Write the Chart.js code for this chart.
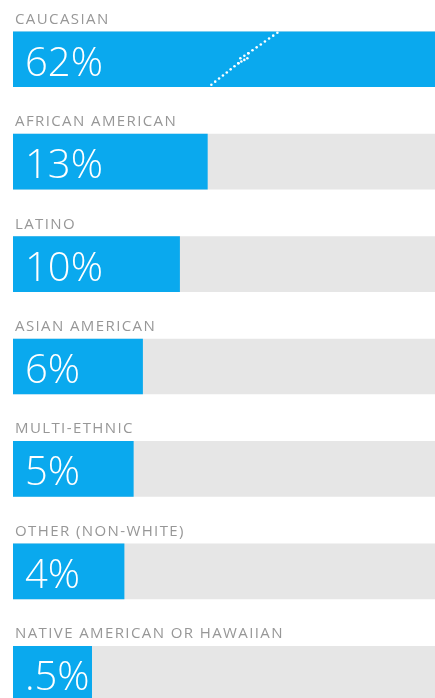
<!DOCTYPE html>
<html>
<head>
<meta charset="utf-8">
<script src="https://cdn.jsdelivr.net/npm/chart.js@4/dist/chart.umd.min.js"></script>
<style>
  html, body { margin: 0; padding: 0; background: #fff; overflow: hidden; }
  #wrap { width: 435px; height: 698px; overflow: hidden; }
</style>
</head>
<body>
<div id="wrap"><canvas id="chart" width="435" height="725"></canvas></div>
<script>
const categories = [
    'CAUCASIAN',
    'AFRICAN AMERICAN',
    'LATINO',
    'ASIAN AMERICAN',
    'MULTI-ETHNIC',
    'OTHER (NON-WHITE)',
    'NATIVE AMERICAN OR HAWAIIAN'
];
const shares = [62, 13, 10, 6, 5, 4, 0.5];
const valueLabels = ['62%', '13%', '10%', '6%', '5%', '4%', '.5%'];
// grey track behind each bar runs to the end of the axis
const trackValues = [37.6, 37.6, 37.6, 37.6, 37.6, 37.6, 37.6];
const axisMin = -8.0;
const axisMax = 37.6;
const breakAt = 17;   // where the broken first bar shows its cut mark

const blue = '#0aa9ee';
const track = '#e6e6e6';

// category names above the bars, values inside, and the break mark
const labelPlugin = {
    id: 'labels',
    afterDatasetsDraw: function (chart) {
        const ctx = chart.ctx;
        const meta = chart.getDatasetMeta(1);
        const left = chart.chartArea.left;
        ctx.save();
        meta.data.forEach(function (bar, i) {
            const top = bar.y - bar.height / 2;
            ctx.fillStyle = '#979797';
            ctx.font = '15px "Open Sans"';
            ctx.letterSpacing = '1.4px';
            ctx.textBaseline = 'alphabetic';
            ctx.fillText(categories[i], left + 2, top - 8);

            ctx.fillStyle = '#ffffff';
            ctx.font = '300 40px "Open Sans"';
            ctx.letterSpacing = '0px';
            ctx.fillText(valueLabels[i], left + 12, top + 44);
        });

        // dotted diagonal cut on the first bar
        const first = meta.data[0];
        const top = first.y - first.height / 2;
        const bottom = first.y + first.height / 2;
        const bx = chart.scales.x.getPixelForValue(breakAt);
        const mid = (top + bottom) / 2;
        ctx.fillStyle = '#ffffff';
        const dots = function (x1, y1, x2, y2, step) {
            const len = Math.hypot(x2 - x1, y2 - y1);
            const n = Math.max(1, Math.round(len / step));
            for (let k = 0; k <= n; k++) {
                ctx.beginPath();
                ctx.arc(x1 + (x2 - x1) * k / n, y1 + (y2 - y1) * k / n, 1.3, 0, Math.PI * 2);
                ctx.fill();
            }
        };
        dots(bx - 33, bottom - 2, bx - 6, mid + 4, 5);
        dots(bx + 4, mid - 6, bx + 33, top + 1, 5);
        dots(bx - 6, mid + 4, bx + 3, mid - 1, 4);
        dots(bx - 4, mid - 1, bx + 4, mid - 6, 4);
        ctx.restore();
    }
};

new Chart(document.getElementById('chart'), {
    type: 'bar',
    data: {
        labels: categories,
        datasets: [
            {
                data: trackValues,
                backgroundColor: track,
                base: axisMin,
                grouped: false,
                order: 2
            },
            {
                data: shares,
                backgroundColor: blue,
                base: axisMin,
                grouped: false,
                order: 1
            }
        ]
    },
    options: {
        indexAxis: 'y',
        responsive: false,
        animation: false,
        devicePixelRatio: 1,
        layout: { padding: { left: 13, top: 8, right: 0, bottom: 0 } },
        datasets: { bar: { barThickness: 55, borderWidth: 0 } },
        scales: {
            x: { type: 'linear', min: axisMin, max: axisMax, display: false },
            y: { display: false, offset: true }
        },
        plugins: {
            legend: { display: false },
            tooltip: { enabled: false }
        }
    },
    plugins: [labelPlugin]
});
</script>
</body>
</html>
